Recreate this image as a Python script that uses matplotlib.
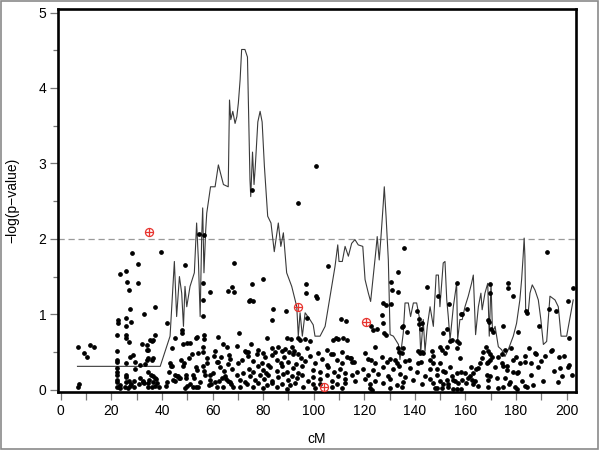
import matplotlib
matplotlib.use("Agg")
import matplotlib.pyplot as plt
from matplotlib.patches import Rectangle
from matplotlib.ticker import MultipleLocator

plt.rcParams['font.family'] = ['Liberation Sans', 'DejaVu Sans']

# ---- LOD-type curve (cM, -log p) ----
curve_cm = [6.6, 39.3, 43.2, 44.9, 45.8, 46.9, 47.8, 48.5, 49.1, 49.8, 51.1, 52.8, 53.7, 54.4, 55.1, 55.7,
            56.1, 56.6, 57.3, 57.7, 59.2, 61.0, 62.3, 64.3, 66.2, 66.7, 67.2, 68.0, 68.9, 69.6, 70.2, 70.9,
            71.5, 72.8, 73.8, 74.2, 74.8, 75.1, 75.8, 76.4, 76.9, 77.9, 78.8, 79.6, 80.5, 81.8, 83.1, 84.4,
            86.0, 87.0, 88.0, 89.3, 91.3, 93.3, 93.9, 94.6, 95.5, 96.6, 98.5, 99.8, 100.5, 102.5, 104.5,
            107.1, 108.4, 109.5, 110.0, 111.3, 112.4, 113.7, 115.0, 116.3, 117.6, 119.4, 120.3, 121.6,
            122.5, 123.6, 124.6, 125.1, 125.9, 126.6, 127.5, 127.9, 128.6, 129.5, 130.2, 131.5, 133.5,
            134.1, 135.4, 136.1, 137.4, 138.3, 139.4, 140.7, 141.7, 142.3, 143.3, 144.0, 144.9, 146.0,
            147.3, 148.4, 149.3, 149.9, 151.2, 151.9, 152.6, 153.2, 153.9, 155.2, 156.5, 156.9, 157.8,
            158.7, 159.8, 161.1, 162.4, 163.1, 164.0, 165.1, 166.1, 166.6, 167.7, 168.8, 169.4, 170.1,
            170.7, 171.7, 173.0, 174.3, 175.6, 176.9, 178.9, 180.2, 181.5, 182.2, 182.8, 183.2, 183.5,
            183.8, 184.8, 185.5, 186.4, 187.5, 188.8, 189.8, 190.8, 192.1, 193.4, 195.4, 196.7, 197.8,
            200.0, 202.6]
curve_logp = [0.31, 0.31, 0.71, 1.70, 0.97, 1.50, 1.28, 0.84, 1.37, 1.10, 1.37, 1.55, 2.21, 1.72, 0.97, 2.03,
              2.41, 1.55, 2.12, 2.34, 2.69, 2.69, 2.98, 2.72, 2.69, 3.84, 3.58, 3.69, 3.53, 3.62, 3.80, 4.11,
              4.51, 4.51, 4.41, 3.75, 2.78, 2.56, 3.15, 2.72, 2.96, 3.55, 3.69, 3.55, 2.96, 2.30, 2.21, 1.83,
              2.21, 1.90, 2.08, 1.55, 1.37, 1.10, 0.71, 1.02, 0.71, 1.02, 0.93, 0.86, 0.71, 0.71, 0.84,
              1.37, 1.63, 1.92, 1.70, 1.70, 1.90, 1.77, 1.94, 1.99, 1.92, 1.90, 1.46, 1.28,
              1.17, 1.52, 1.85, 2.03, 1.72, 2.03, 2.47, 2.69, 2.30, 1.72, 0.73, 0.71, 0.60,
              0.40, 0.75, 1.15, 1.15, 0.97, 1.15, 1.15, 0.97, 0.49, 0.93, 0.51, 0.84, 1.10,
              0.84, 1.52, 1.52, 1.10, 1.68, 1.70, 1.19, 0.97, 0.66, 1.10, 1.41, 0.66, 0.93,
              0.93, 1.10, 1.24, 1.41, 1.52, 0.73, 1.10, 1.28, 1.06, 1.28, 1.41, 0.71, 1.41,
              0.75, 0.84, 0.57, 0.53, 0.44, 0.53, 0.71, 0.88, 1.19, 1.46, 1.77, 2.01, 1.77,
              1.06, 1.02, 1.28, 1.39, 1.32, 1.19, 0.93, 0.60, 0.64, 1.24, 1.19, 1.10, 0.71,
              0.71, 1.19]

# ---- single-marker points ----
dot_pts = [
    (6.7, 0.57), (11.5, 0.59), (13.3, 0.56), (9.3, 0.49), (10.3, 0.43), (7.0, 0.08), (6.8, 0.04),
    (28.0, 1.81), (30.4, 1.66), (23.4, 1.54), (25.7, 1.58), (26.3, 1.43), (30.4, 1.42), (27.1, 1.32),
    (27.4, 1.07), (32.7, 1.01), (37.4, 1.10), (22.5, 0.92), (22.5, 0.88), (25.7, 0.95), (25.7, 0.85),
    (27.7, 0.90), (22.4, 0.72), (25.8, 0.73), (25.8, 0.68), (27.1, 0.63), (32.0, 0.61), (34.2, 0.59),
    (34.2, 0.53), (35.9, 0.65), (37.3, 0.72), (22.4, 0.51), (22.4, 0.40), (22.4, 0.37), (27.4, 0.43),
    (28.7, 0.46), (25.8, 0.35), (29.4, 0.37), (34.0, 0.40), (34.6, 0.42), (31.3, 0.33), (33.3, 0.34),
    (22.4, 0.29), (22.4, 0.24), (22.4, 0.19), (22.4, 0.13), (22.4, 0.10), (22.4, 0.04), (23.4, 0.02),
    (29.4, 0.27), (34.6, 0.23), (35.5, 0.20), (36.5, 0.18), (37.3, 0.15), (25.6, 0.20), (25.8, 0.17),
    (31.4, 0.16), (25.6, 0.10), (26.8, 0.12), (27.8, 0.08), (28.8, 0.11), (31.0, 0.08), (32.5, 0.10),
    (34.6, 0.09), (37.3, 0.05), (38.0, 0.09), (38.7, 0.04), (23.0, 0.03), (23.5, 0.06), (25.3, 0.04),
    (26.5, 0.02), (27.5, 0.05), (29.0, 0.03), (33.0, 0.09), (34.6, 0.04), (36.0, 0.03), (39.6, 1.82),
    (36.0, 0.40), (36.6, 0.42), (35.4, 0.66), (36.3, 0.66), (34.6, 0.53), (37.5, 0.14), (32.6, 0.12),
    (35.0, 0.13), (36.5, 0.10),
    (41.9, 0.89), (45.2, 0.69), (47.8, 0.79), (47.8, 0.75), (49.8, 0.62), (53.7, 0.70), (43.2, 0.35),
    (43.6, 0.32), (45.2, 0.19), (46.0, 0.18), (46.6, 0.15), (49.5, 0.15), (49.5, 0.20), (49.1, 1.65),
    (68.6, 1.68), (54.7, 2.07), (56.8, 2.05), (56.1, 1.41), (56.1, 1.19), (56.1, 0.98), (59.0, 1.29),
    (66.2, 1.31), (67.6, 1.36), (68.5, 1.29), (74.5, 1.18), (53.5, 0.69), (56.6, 0.73), (56.6, 0.67),
    (51.1, 0.62), (48.5, 0.60), (54.4, 0.49), (56.3, 0.56), (56.3, 0.50), (61.7, 0.37), (62.3, 0.37),
    (66.6, 0.46), (66.9, 0.41), (66.2, 0.34), (65.8, 0.57), (69.6, 0.58), (73.2, 0.50), (74.2, 0.50),
    (43.9, 0.32), (42.9, 0.23), (46.5, 0.18), (47.2, 0.15), (48.9, 0.35), (48.5, 0.32), (53.5, 0.30),
    (54.0, 0.26), (56.1, 0.31), (56.6, 0.25), (57.0, 0.20), (52.4, 0.20), (52.7, 0.15), (59.0, 0.19),
    (58.8, 0.13), (65.0, 0.18), (65.5, 0.14), (66.0, 0.12), (66.8, 0.10), (67.3, 0.08), (69.6, 0.20),
    (70.9, 0.13), (49.1, 0.02), (49.8, 0.05), (52.4, 0.04), (53.3, 0.04), (54.4, 0.03), (58.6, 0.06),
    (59.5, 0.07), (61.9, 0.03), (64.0, 0.03), (68.0, 0.03), (70.9, 0.03), (44.5, 0.13), (45.2, 0.12),
    (41.5, 0.05), (42.0, 0.10), (60.5, 0.45), (63.0, 0.30), (71.5, 0.40), (72.8, 0.51), (60.0, 0.22),
    (62.5, 0.12), (58.0, 0.42), (61.0, 0.52), (63.5, 0.44), (64.5, 0.25), (67.8, 0.28), (70.0, 0.35),
    (72.0, 0.22), (73.0, 0.10), (60.8, 0.10), (63.8, 0.16), (57.8, 0.35), (55.2, 0.10), (51.0, 0.08),
    (47.5, 0.40), (50.5, 0.42), (52.0, 0.47), (44.0, 0.55), (64.0, 0.60), (62.0, 0.70), (70.5, 0.75),
    (100.9, 2.96), (93.7, 2.47), (75.7, 2.65), (105.5, 1.64), (80.1, 1.47), (75.7, 1.40), (97.0, 1.40),
    (97.0, 1.28), (100.8, 1.24), (101.2, 1.21), (74.8, 1.19), (76.1, 1.17), (84.0, 1.07), (88.9, 1.05),
    (83.6, 0.92), (97.2, 0.95), (110.8, 0.94), (112.8, 0.91), (81.4, 0.68), (89.3, 0.69), (91.0, 0.67),
    (93.9, 0.69), (94.5, 0.66), (96.6, 0.67), (98.5, 0.64), (107.7, 0.66), (108.7, 0.68), (109.7, 0.67),
    (111.7, 0.68), (113.0, 0.66), (75.2, 0.60), (80.1, 0.49), (78.1, 0.53), (83.4, 0.55), (84.7, 0.50),
    (86.0, 0.57), (87.3, 0.52), (88.7, 0.54), (90.4, 0.50), (91.3, 0.56), (92.3, 0.52), (93.9, 0.48),
    (97.2, 0.55), (101.8, 0.49), (105.1, 0.53), (107.8, 0.47), (111.1, 0.50), (114.8, 0.42), (73.9, 0.45),
    (75.8, 0.38), (77.5, 0.47), (79.7, 0.36), (80.8, 0.43), (81.8, 0.33), (83.4, 0.46), (85.4, 0.39),
    (87.1, 0.35), (88.4, 0.44), (90.0, 0.37), (92.0, 0.48), (92.9, 0.34), (95.0, 0.42), (96.6, 0.38),
    (98.5, 0.45), (100.5, 0.36), (103.2, 0.41), (105.1, 0.33), (106.8, 0.47), (109.1, 0.39), (111.1, 0.35),
    (113.0, 0.44), (115.0, 0.37),
    (74.4, 0.28), (76.1, 0.23), (78.1, 0.31), (80.1, 0.26), (81.0, 0.22), (82.7, 0.30), (85.4, 0.25),
    (87.6, 0.32), (89.3, 0.24), (92.0, 0.29), (93.9, 0.22), (95.5, 0.31), (99.9, 0.26), (102.5, 0.23),
    (105.8, 0.30), (108.2, 0.24), (110.4, 0.28), (112.4, 0.22),
    (74.8, 0.18), (76.8, 0.13), (78.8, 0.20), (80.5, 0.14), (81.8, 0.19), (83.4, 0.12), (86.0, 0.17),
    (88.0, 0.21), (90.0, 0.13), (91.3, 0.18), (93.3, 0.15), (95.2, 0.20), (97.9, 0.12), (99.9, 0.17),
    (102.5, 0.14), (105.1, 0.20), (107.1, 0.12), (109.7, 0.18), (112.4, 0.14), (115.0, 0.19),
    (73.5, 0.08), (76.1, 0.04), (78.1, 0.09), (80.1, 0.02), (81.4, 0.06), (83.4, 0.09), (85.4, 0.03),
    (87.4, 0.07), (89.3, 0.01), (90.6, 0.06), (92.6, 0.09), (95.9, 0.03), (99.9, 0.07), (100.5, 0.02),
    (102.5, 0.08), (107.1, 0.03), (109.1, 0.07), (111.1, 0.02), (112.4, 0.09),
    (135.7, 1.88), (133.5, 1.56), (130.4, 1.43), (131.1, 1.32), (130.4, 1.13), (133.5, 1.29), (144.9, 1.36),
    (127.5, 1.15), (128.6, 1.12), (127.1, 0.99), (127.5, 0.88), (127.9, 0.75), (128.6, 0.73), (122.6, 0.85),
    (123.3, 0.79), (124.9, 0.80), (134.8, 0.83), (141.6, 0.87), (142.3, 0.80), (149.3, 1.24), (153.5, 1.14),
    (152.6, 0.80), (151.2, 0.75), (149.9, 0.57), (146.0, 0.40), (124.2, 0.57), (120.3, 0.49), (121.6, 0.41),
    (114.4, 0.42), (115.9, 0.37), (122.5, 0.40), (124.2, 0.35), (126.9, 0.43), (128.8, 0.37), (130.2, 0.41),
    (132.1, 0.40), (133.5, 0.55), (133.9, 0.50), (134.8, 0.49), (135.4, 0.55), (132.8, 0.36), (133.7, 0.32),
    (136.1, 0.38), (137.8, 0.40), (141.4, 0.51), (142.0, 0.49), (142.7, 0.50), (143.3, 0.49), (141.4, 0.35),
    (142.4, 0.37), (146.6, 0.51), (147.0, 0.45), (147.3, 0.35), (150.6, 0.53), (151.9, 0.49), (152.8, 0.57),
    (153.9, 0.64), (154.5, 0.66), (141.0, 1.04), (141.8, 0.94), (142.7, 0.88), (135.4, 0.84), (136.7, 0.77),
    (156.8, 1.41), (158.5, 1.01),
    (117.0, 0.23), (119.6, 0.28), (121.6, 0.19), (123.6, 0.26), (125.6, 0.21), (127.5, 0.30), (129.5, 0.18),
    (131.2, 0.27), (134.1, 0.21), (136.1, 0.17), (138.1, 0.29), (140.7, 0.23), (144.0, 0.18), (146.0, 0.28),
    (148.6, 0.20), (151.2, 0.25), (153.9, 0.30), (156.5, 0.22),
    (116.3, 0.11), (120.3, 0.14), (122.3, 0.07), (124.2, 0.12), (127.5, 0.09), (130.2, 0.14), (132.8, 0.06),
    (135.4, 0.10), (139.4, 0.13), (142.7, 0.08), (146.0, 0.14), (149.9, 0.11), (153.2, 0.07), (155.8, 0.12),
    (122.3, 0.02), (122.9, 0.00), (130.2, 0.02), (134.8, 0.03), (148.0, 0.02), (150.6, 0.02), (155.2, 0.01),
    (148.6, 0.27), (149.9, 0.35), (151.9, 0.24), (152.6, 0.13), (154.5, 0.18), (147.3, 0.09), (148.6, 0.02),
    (151.2, 0.07), (153.2, 0.04), (155.2, 0.13),
    (192.3, 1.83), (176.9, 1.41), (176.9, 1.35), (178.6, 1.24), (183.8, 1.04), (184.2, 1.02), (160.5, 1.07),
    (158.2, 1.00), (169.7, 1.40), (169.7, 1.28), (169.0, 0.93), (169.4, 0.90), (170.1, 0.80), (170.7, 0.76),
    (175.0, 0.85), (180.6, 0.77), (189.1, 0.85), (193.1, 1.07), (195.8, 1.05), (200.4, 1.17), (201.0, 0.68),
    (202.6, 1.35), (156.5, 0.65), (156.5, 0.55), (157.4, 0.62), (157.8, 0.42), (168.2, 0.57), (169.0, 0.52),
    (169.5, 0.48), (170.6, 0.44), (169.7, 0.40), (168.8, 0.37), (168.4, 0.35), (166.4, 0.42), (165.7, 0.35),
    (164.8, 0.29), (164.0, 0.27), (163.1, 0.22), (161.8, 0.18), (161.1, 0.15), (159.8, 0.22), (158.2, 0.24),
    (158.5, 0.13), (157.2, 0.09), (156.5, 0.01), (174.3, 0.48), (175.6, 0.53), (176.3, 0.31), (176.3, 0.26),
    (178.9, 0.40), (179.8, 0.44), (180.5, 0.22), (183.5, 0.45), (183.5, 0.37), (186.1, 0.35), (187.7, 0.48),
    (168.6, 0.19), (169.7, 0.18), (169.0, 0.13), (168.8, 0.03), (163.8, 0.11), (163.1, 0.07), (160.1, 0.09),
    (158.1, 0.01), (173.0, 0.02), (175.0, 0.04), (177.6, 0.10), (180.2, 0.01), (183.5, 0.05), (184.2, 0.03),
    (194.1, 0.53), (197.0, 0.44), (197.3, 0.29), (200.6, 0.30), (198.0, 0.18), (202.0, 0.20), (200.9, 0.33),
    (193.8, 0.52), (175.6, 0.16), (177.3, 0.07), (179.6, 0.04), (178.9, 0.24), (180.9, 0.24),
    (173.0, 0.44), (174.3, 0.35), (175.0, 0.31), (185.0, 0.55), (187.5, 0.49), (162.4, 0.13),
    (162.0, 0.30), (165.0, 0.05), (167.0, 0.50), (171.5, 0.30), (172.5, 0.15), (178.0, 0.55),
    (181.5, 0.35), (182.5, 0.12), (186.0, 0.20), (188.5, 0.30), (190.5, 0.12), (191.5, 0.45),
    (195.0, 0.25), (196.5, 0.10), (199.0, 0.45), (190.0, 0.38), (186.8, 0.06),
]
dot_cm = [p[0] for p in dot_pts]
dot_logp = [p[1] for p in dot_pts]

# ---- highlighted markers ----
hi_cm = [34.9, 93.6, 104.2, 120.6]
hi_logp = [2.09, 1.09, 0.04, 0.90]

threshold = 2.0

fig = plt.figure(figsize=(6, 4.5), dpi=100)
ax = fig.add_axes([0.0967, 0.1289, 0.8633, 0.85])

ax.axhline(threshold, color='#9a9a9a', lw=0.9, ls=(0, (5, 3)), zorder=1)
ax.plot(curve_cm, curve_logp, color='#3a3a3a', lw=0.8, zorder=2)
ax.plot(dot_cm, dot_logp, ls='none', marker='o', ms=2.4, color='black', mec='black', zorder=3)
ax.plot(hi_cm, hi_logp, ls='none', marker='o', ms=5.8, mfc='none', mec='#e8342f', mew=0.9, zorder=4)
ax.plot(hi_cm, hi_logp, ls='none', marker='+', ms=5.8, color='#e8342f', mew=0.9, zorder=4)

ax.set_xlim(-1.1, 203.7)
ax.set_ylim(-0.03, 5.04)
ax.xaxis.set_major_locator(MultipleLocator(20))
ax.xaxis.set_minor_locator(MultipleLocator(10))
ax.yaxis.set_major_locator(MultipleLocator(1))
ax.yaxis.set_minor_locator(MultipleLocator(0.5))
ax.tick_params(axis='both', which='major', direction='out', length=5.5, width=0.9,
               color='#777777', labelsize=10, pad=3)
ax.tick_params(axis='y', which='minor', direction='out', length=3.6, width=0.9, color='#777777')
ax.tick_params(axis='x', which='minor', direction='out', length=5.5, width=0.9, color='#777777')
for s in ax.spines.values():
    s.set_linewidth(1.9)
    s.set_color('black')

ax.set_xlabel('cM', fontsize=10, labelpad=10)
ax.set_ylabel('\u2212log(p\u2212value)', fontsize=10, labelpad=14)

fig.patches.append(Rectangle((0.002, 0.003), 0.995, 0.994, transform=fig.transFigure,
                             fill=False, edgecolor='#8a8a8a', lw=1.2))

fig.savefig('out.png', dpi=100)
